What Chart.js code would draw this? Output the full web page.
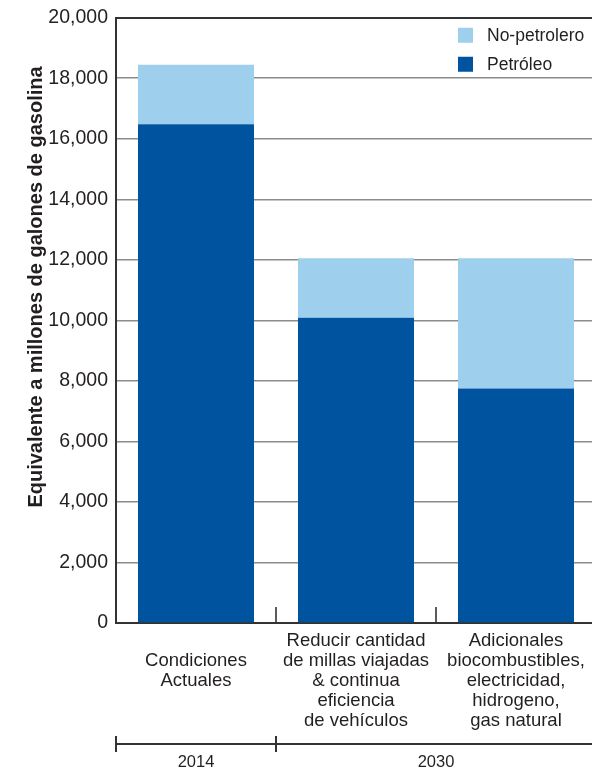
<!DOCTYPE html>
<html lang="es">
<head>
<meta charset="utf-8">
<title>Equivalente a millones de galones de gasolina</title>
<script src="https://cdn.jsdelivr.net/npm/chart.js@4.4.1/dist/chart.umd.min.js"></script>
<style>
    html, body { margin: 0; padding: 0; background: #fff; overflow: hidden; }
    /* the reference is cropped at its right edge, so the plot runs a bit past the window */
    .chart-box { position: relative; width: 596px; height: 767px; }
</style>
</head>
<body>
<div class="chart-box"><canvas id="fuelChart"></canvas></div>
<script>
// ---- Data ----
const categories = [
    ['', 'Condiciones', 'Actuales'],
    ['Reducir cantidad', 'de millas viajadas', '& continua', 'eficiencia', 'de vehículos'],
    ['Adicionales', 'biocombustibles,', 'electricidad,', 'hidrogeno,', 'gas natural'],
];
const petroleo    = [16480, 10090, 7750];
const noPetrolero = [1970, 1960, 4300];

const yearLabels = ['2014', '2030'];
const yearSpans  = [[0, 0], [1, 2]];   // first / last category index of each year

const yMax  = 20000;
const yStep = 2000;
const yTitle = 'Equivalente a millones de galones de gasolina';

// ---- Colours ----
const DARK_BLUE  = '#00539f';
const LIGHT_BLUE = '#9ecfed';
const INK        = '#231f20';
const AXIS       = '#333333';
const GRID       = '#8c8c8c';
const FONT       = "'Liberation Sans', Arial, sans-serif";

// ---- Extra drawing: legend, y title, separators, year bracket ----
const decorations = {
    id: 'decorations',
    afterDraw(chart) {
        const { ctx, chartArea } = chart;
        const x = chart.scales.x;
        const half = (x.getPixelForValue(1) - x.getPixelForValue(0)) / 2;

        ctx.save();

        // small separators standing on the baseline between categories
        ctx.strokeStyle = AXIS;
        ctx.lineWidth = 1.6;
        for (let i = 0; i < categories.length - 1; i++) {
            const sx = x.getPixelForValue(i) + half;
            ctx.beginPath();
            ctx.moveTo(sx, chartArea.bottom);
            ctx.lineTo(sx, chartArea.bottom - 16);
            ctx.stroke();
        }

        // year bracket under the category labels
        const by = chartArea.bottom + 121;
        ctx.lineWidth = 2;
        ctx.fillStyle = INK;
        ctx.font = `16.5px ${FONT}`;
        ctx.textAlign = 'center';
        ctx.textBaseline = 'middle';
        yearSpans.forEach(([a, b], i) => {
            const x0 = x.getPixelForValue(a) - half;
            const x1 = x.getPixelForValue(b) + half;
            ctx.beginPath();
            ctx.moveTo(x0, by);
            ctx.lineTo(x1, by);
            ctx.moveTo(x0, by - 8);
            ctx.lineTo(x0, by + 8);
            ctx.moveTo(x1, by - 8);
            ctx.lineTo(x1, by + 8);
            ctx.stroke();
            ctx.fillText(yearLabels[i], (x0 + x1) / 2, by + 18);
        });

        // legend, top dataset first
        ctx.font = `17.5px ${FONT}`;
        ctx.textAlign = 'left';
        const items = chart.data.datasets.slice().reverse();
        items.forEach((ds, i) => {
            const lx = chartArea.right - 138;
            const ly = chartArea.top + 10 + i * 29;
            ctx.fillStyle = ds.backgroundColor;
            ctx.fillRect(lx, ly, 15, 15);
            ctx.fillStyle = INK;
            ctx.fillText(ds.label, lx + 29, ly + 8);
        });

        // rotated y-axis title
        ctx.font = `bold 20px ${FONT}`;
        ctx.textAlign = 'center';
        ctx.translate(36, 287);
        ctx.rotate(-Math.PI / 2);
        ctx.fillText(yTitle, 0, 0);

        ctx.restore();
    }
};

// ---- Chart ----
(function () {
    const canvas = document.getElementById('fuelChart');
    new Chart(canvas.getContext('2d'), {
        type: 'bar',
        data: {
            labels: categories,
            datasets: [
                {
                    label: 'Petróleo',
                    data: petroleo,
                    backgroundColor: DARK_BLUE,
                },
                {
                    label: 'No-petrolero',
                    data: noPetrolero,
                    backgroundColor: LIGHT_BLUE,
                },
            ]
        },
        options: {
            responsive: true,
            maintainAspectRatio: false,
            animation: false,
            layout: { padding: { top: 2, right: 0, bottom: 28, left: 0 } },
            datasets: {
                bar: { barPercentage: 0.725, categoryPercentage: 1, borderWidth: 0 }
            },
            plugins: {
                legend: { display: false },
                tooltip: { enabled: false },
            },
            scales: {
                x: {
                    stacked: true,
                    grid: { display: false, drawTicks: false },
                    border: { display: true, color: AXIS, width: 2 },
                    ticks: {
                        color: INK,
                        padding: 8,
                        maxRotation: 0,
                        autoSkip: false,
                        font: { family: FONT, size: 18.5, lineHeight: '20px' },
                    },
                },
                y: {
                    stacked: true,
                    min: 0,
                    max: yMax,
                    afterFit: scale => { scale.width = 116; },
                    grid: {
                        drawTicks: false,
                        color: ctx => ctx.tick && ctx.tick.value === yMax ? AXIS : GRID,
                        lineWidth: ctx => ctx.tick && ctx.tick.value === yMax ? 2 : 1.6,
                    },
                    border: { display: true, color: AXIS, width: 2 },
                    ticks: {
                        stepSize: yStep,
                        color: INK,
                        padding: 8,
                        font: { family: FONT, size: 19.5, lineHeight: 1 },
                        callback: v => v.toLocaleString('en-US'),
                    },
                },
            }
        },
        plugins: [decorations],
    });
})();
</script>
</body>
</html>
